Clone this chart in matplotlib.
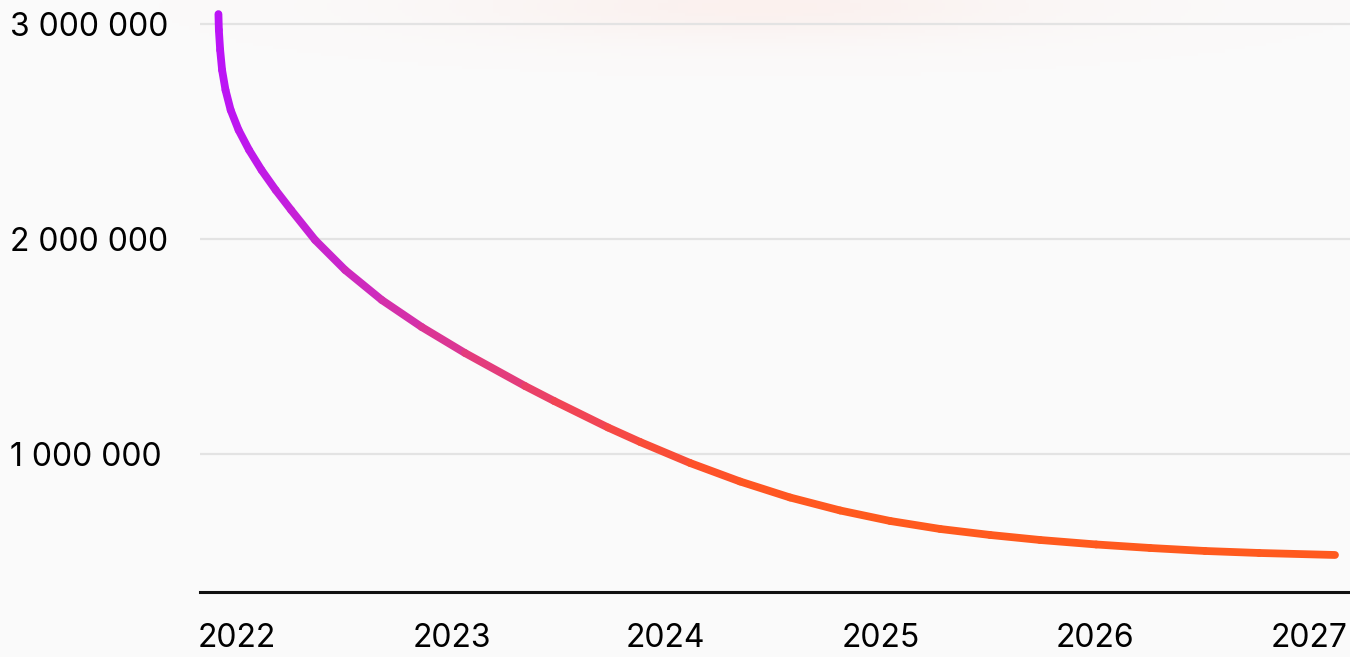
import numpy as np
import matplotlib
matplotlib.use("Agg")
import matplotlib.pyplot as plt
from matplotlib.collections import LineCollection
from matplotlib.colors import LinearSegmentedColormap

# values (x in fractional years, y in units)
years = [2021.913, 2021.915, 2021.921, 2021.930, 2021.946, 2021.970, 2022.007,
         2022.056, 2022.114, 2022.180, 2022.252, 2022.364, 2022.504, 2022.675,
         2022.861, 2023.063, 2023.343, 2023.479, 2023.730, 2023.880, 2024.113,
         2024.346, 2024.579, 2024.813, 2025.046, 2025.279, 2025.512, 2025.745,
         2026.007, 2026.258, 2026.515, 2026.767, 2027.121]
values = [3046500, 2972100, 2879100, 2786000, 2693000, 2600000, 2507000,
          2414000, 2320900, 2227900, 2134900, 1995300, 1855800, 1716300,
          1590700, 1469800, 1316300, 1246500, 1123300, 1055800, 958100,
          872100, 797700, 737200, 688400, 651200, 623300, 600000,
          579100, 562800, 548800, 539500, 530200]
x_ticks = [2022, 2023, 2024, 2025, 2026, 2027]
y_ticks = [1000000, 2000000, 3000000]
y_labels = ["1 000 000", "2 000 000", "3 000 000"]

W, H = 1350, 657
plt.rcParams['font.family'] = ['Inter', 'DejaVu Sans']
fig = plt.figure(figsize=(W / 100, H / 100), dpi=100, facecolor="#fafafa")

# faint warm glow at the top
glow_ax = fig.add_axes([0, 0, 1, 1], zorder=0)
glow_ax.axis("off")
gx, gy = np.meshgrid(np.linspace(0, W, 400), np.linspace(0, H, 200))
blob = np.exp(-(((gx - 760) / 300) ** 2 + ((gy - 5) / 35) ** 2))
rgba = np.zeros(gx.shape + (4,))
rgba[..., 0] = 1.0
rgba[..., 1] = 0.82
rgba[..., 2] = 0.78
rgba[..., 3] = 0.22 * blob
glow_ax.imshow(rgba, extent=[0, W, H, 0], aspect="auto")
glow_ax.set_xlim(0, W)
glow_ax.set_ylim(H, 0)

ax = fig.add_axes([200 / W, 65 / H, 1150 / W, 592 / H], zorder=1)
ax.patch.set_alpha(0)

# gradient line, colour changes along x
pts = np.column_stack([years, values])
segs = np.stack([pts[:-1], pts[1:]], axis=1)
cmap = LinearSegmentedColormap.from_list(
    "grad", ["#bb14f7", "#cb28c6", "#e03a85", "#f4474c", "#ff5424", "#ff5a1e"])
mid_x = (np.array(years[:-1]) + np.array(years[1:])) / 2
t = np.clip((mid_x - 2021.91) / (2024.9 - 2021.91), 0, 1)
lc = LineCollection(segs, colors=cmap(t), linewidths=5.6, capstyle="round",
                    joinstyle="round", zorder=3)
ax.add_collection(lc)

ax.set_xlim(2021.827, 2027.191)
ax.set_ylim(358000, 3112000)

ax.set_yticks(y_ticks)
ax.set_yticklabels(y_labels, fontsize=23, ha="left")
ax.tick_params(axis="y", length=0, pad=137)
ax.set_xticks(x_ticks)
ax.set_xticklabels([str(v) for v in x_ticks], fontsize=23)
ax.tick_params(axis="x", length=0, pad=22)

ax.grid(axis="y", color="#e3e3e3", linewidth=1.6)
ax.set_axisbelow(True)
for side in ["top", "right", "left"]:
    ax.spines[side].set_visible(False)
ax.spines["bottom"].set_color("#111111")
ax.spines["bottom"].set_linewidth(2.2)

fig.savefig("out.png", dpi=100, facecolor=fig.get_facecolor())
